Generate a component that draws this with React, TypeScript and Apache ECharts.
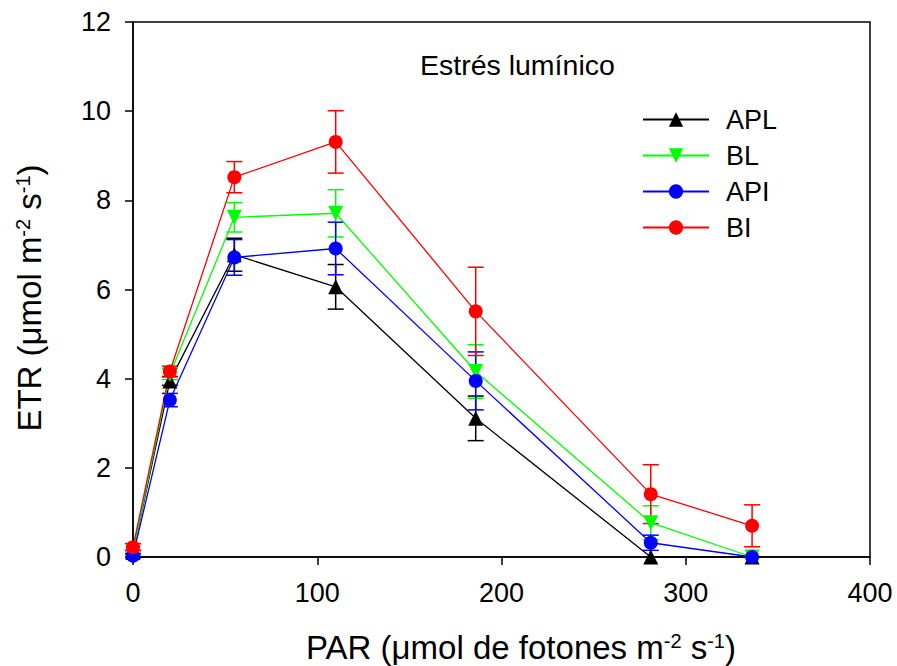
import React, { useEffect, useRef } from "react";
import * as echarts from "echarts";

const PAR = [0, 20, 55, 110, 186, 281, 336];
const SERIES_NAMES = ["APL", "BL", "API", "BI"];
const APL = [0.1, 3.95, 6.78, 6.06, 3.11, 0, 0];
const APL_ERR = [0.06, 0.1, 0.37, 0.5, 0.5, 0, 0];
const BL = [0.1, 4.1, 7.62, 7.71, 4.16, 0.77, 0];
const BL_ERR = [0.06, 0.12, 0.33, 0.53, 0.6, 0.38, 0];
const API = [0.03, 3.52, 6.72, 6.92, 3.95, 0.32, 0];
const API_ERR = [0.05, 0.15, 0.4, 0.59, 0.65, 0.17, 0];
const BI = [0.22, 4.16, 8.52, 9.31, 5.51, 1.41, 0.7];
const BI_ERR = [0.08, 0.12, 0.35, 0.7, 0.99, 0.66, 0.47];
const X_TICKS = [0, 100, 200, 300, 400];
const Y_TICKS = [0, 2, 4, 6, 8, 10, 12];

const COLORS = ["#000000", "#00ff00", "#0000ff", "#ff0000"];
const SYMBOLS = ["triangle", "triangle", "circle", "circle"];
const ROTATE = [0, 180, 0, 0];
const SIZES = [15, 15, 14, 14];
const FONT = "'Liberation Sans', Arial, sans-serif";

export default function App() {
  const ref = useRef<HTMLDivElement>(null);
  useEffect(() => {
    if (!ref.current) return;
    const chart = echarts.init(ref.current, undefined, { renderer: "svg" });
    const values = [APL, BL, API, BI];
    const errs = [APL_ERR, BL_ERR, API_ERR, BI_ERR];

    const errSeries: any[] = values.map((vals, si) => ({
      type: "custom",
      name: SERIES_NAMES[si] + "_err",
      z: 1,
      silent: true,
      encode: { x: 0, y: [1, 2] },
      data: vals
        .map((v, i) => [PAR[i], v - errs[si][i], v + errs[si][i], errs[si][i]])
        .filter((d) => d[3] > 0),
      renderItem: (params: any, api: any) => {
        const x = api.value(0);
        const p1 = api.coord([x, api.value(1)]);
        const p2 = api.coord([x, api.value(2)]);
        const w = 8;
        const style = { stroke: COLORS[si], lineWidth: 1.5 };
        return {
          type: "group",
          children: [
            { type: "line", shape: { x1: p1[0], y1: p1[1], x2: p2[0], y2: p2[1] }, style },
            { type: "line", shape: { x1: p1[0] - w, y1: p1[1], x2: p1[0] + w, y2: p1[1] }, style },
            { type: "line", shape: { x1: p2[0] - w, y1: p2[1], x2: p2[0] + w, y2: p2[1] }, style },
          ],
        };
      },
    }));

    const lineSeries: any[] = values.map((vals, si) => ({
      type: "line",
      name: SERIES_NAMES[si],
      z: 2,
      data: vals.map((v, i) => [PAR[i], v]),
      symbol: SYMBOLS[si],
      symbolSize: SIZES[si],
      symbolRotate: ROTATE[si],
      showAllSymbol: true,
      lineStyle: { color: COLORS[si], width: 1.3 },
      itemStyle: { color: COLORS[si] },
    }));

    const titleStyle = { a: { fontSize: 33, fontFamily: FONT, fill: "#000" } };
    const supStyle = { fontSize: 20, fontFamily: FONT, fill: "#000", verticalAlign: "top" };

    chart.setOption({
      animation: false,
      backgroundColor: "#ffffff",
      grid: {
        left: 133,
        right: 27,
        top: 22,
        bottom: 109,
        show: true,
        borderColor: "#000",
        borderWidth: 1.5,
        backgroundColor: "transparent",
      },
      xAxis: {
        type: "value",
        min: X_TICKS[0],
        max: X_TICKS[X_TICKS.length - 1],
        interval: 100,
        axisLine: { show: true, lineStyle: { color: "#000", width: 1.5 } },
        axisTick: { show: true, inside: false, length: 8, lineStyle: { color: "#000", width: 1.5 } },
        axisLabel: { color: "#000", fontSize: 27, fontFamily: FONT, margin: 22 },
        splitLine: { show: false },
      },
      yAxis: {
        type: "value",
        min: Y_TICKS[0],
        max: Y_TICKS[Y_TICKS.length - 1],
        interval: 2,
        axisLine: { show: true, lineStyle: { color: "#000", width: 1.5 } },
        axisTick: { show: true, inside: false, length: 8, lineStyle: { color: "#000", width: 1.5 } },
        axisLabel: { color: "#000", fontSize: 27, fontFamily: FONT, margin: 22 },
        splitLine: { show: false },
      },
      legend: {
        data: SERIES_NAMES,
        orient: "vertical",
        left: 642,
        top: 106,
        padding: 0,
        itemWidth: 66,
        itemHeight: 18,
        itemGap: 9,
        textStyle: { color: "#000", fontSize: 27, fontFamily: FONT, padding: [0, 0, 0, 12], lineHeight: 27 },
      },
      graphic: [
        {
          type: "text",
          left: 420,
          top: 50,
          style: { text: "Estrés lumínico", fontSize: 28.5, fontFamily: FONT, fill: "#000" },
        },
        {
          type: "text",
          x: 521,
          y: 647,
          style: {
            text: "{a|PAR (μmol de fotones m}{s|-2}{a| s}{s|-1}{a|)}",
            align: "center",
            verticalAlign: "middle",
            rich: { ...titleStyle, s: supStyle },
          },
        },
        {
          type: "text",
          x: 29,
          y: 298,
          rotation: Math.PI / 2,
          style: {
            text: "{a|ETR (μmol m}{s|-2}{a| s}{s|-1}{a|)}",
            align: "center",
            verticalAlign: "middle",
            rich: { ...titleStyle, s: supStyle },
          },
        },
      ],
      series: [...errSeries, ...lineSeries],
    });
    return () => chart.dispose();
  }, []);
  return <div ref={ref} style={{ width: 897, height: 666, position: "absolute", left: 0, top: 0 }} />;
}
